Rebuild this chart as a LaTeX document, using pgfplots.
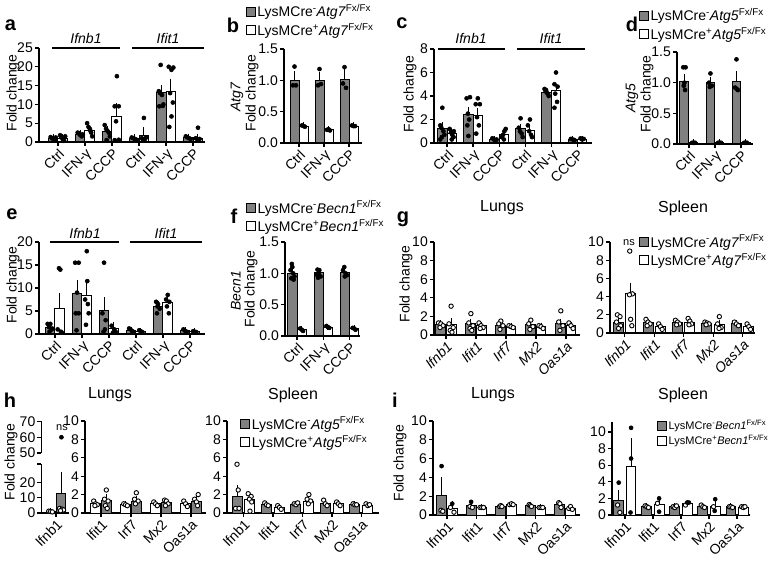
\documentclass[border=0pt]{standalone}
\usepackage{pgfplots}
\pgfplotsset{compat=1.18}
\usepackage{fontspec}
\setmainfont{Liberation Sans}
\newcommand{\fs}[1]{\fontsize{#1}{#1}\selectfont}
\definecolor{bargray}{RGB}{128,128,128}
\pgfplotsset{
  gp/.style={scale only axis, anchor=south west, axis lines=left,
    axis line style={-, line width=1.3pt}, tick style={black, line width=1.3pt},
    tick align=outside, major tick length=4pt, clip=false,
    tick label style={font=\fs{14}},
    xticklabel style={rotate=45, anchor=north east, inner sep=1pt},
    yticklabel style={inner sep=2pt},
    /pgf/number format/assume math mode=true,
    legend cell align=left,
    legend style={draw=none, fill=none, inner sep=0pt, font=\fs{14}, nodes={font=\fs{14}, inner sep=1.5pt}, row sep=1pt}},
  onedec/.style={yticklabel style={/pgf/number format/.cd, fixed, fixed zerofill, precision=1}},
  sq/.style={legend image code/.code={\draw[##1, draw=black, line width=1pt] (0pt,-4.5pt) rectangle (9pt,4.5pt);}},
  gbar/.style={ybar, bar width=#1, bar shift=0pt, fill=bargray, draw=black, line width=1pt, sq,
    error bars/y dir=plus, error bars/y explicit,
    error bars/error bar style={line width=1pt, black},
    error bars/error mark options={line width=1pt, mark size=3pt, black}},
  wbar/.style={gbar=#1, fill=white},
  dots/.style={only marks, mark=*, mark size=2pt, mark options={fill=black, draw=black, line width=0.6pt}, forget plot},
  odots/.style={only marks, mark=*, mark size=2.2pt, mark options={fill=white, draw=black, line width=0.9pt}, forget plot},
}
\begin{document}
\fs{14}%
\begin{tikzpicture}
\path[use as bounding box] (0,0) rectangle (772pt,-561pt);

% ---------------- a ----------------
\begin{axis}[gp, at={(39pt,-142pt)}, width=166pt, height=94pt,
  xmin=-0.7, xmax=5.44, ymin=0, ymax=25, ytick={0,5,10,15,20,25},
  xtick={0,1,2,3,4,5}, xticklabels={Ctrl,IFN-γ,CCCP,Ctrl,IFN-γ,CCCP}]
\addplot[gbar=0.35] coordinates {(-0.175,1.0) +- (0,0.2) (0.825,2.0) +- (0,0.3) (1.825,2.8) +- (0,0.6)
  (2.825,1.0) +- (0,0.2) (3.825,13.2) +- (0,1.1) (4.825,1.2) +- (0,0.25)};
\addplot[wbar=0.35] coordinates {(0.175,1.0) +- (0,0.3) (1.175,3.0) +- (0,0.5) (2.175,6.7) +- (0,2.9)
  (3.175,1.8) +- (0,1.3) (4.175,13.3) +- (0,2.7) (5.175,1.0) +- (0,0.4)};
\addplot[dots] coordinates {(-0.27,1.3)(-0.22,1.0)(-0.17,0.8)(-0.12,0.6)(-0.08,1.2)
  (0.08,1.8)(0.13,1.2)(0.18,0.7)(0.23,0.4)(0.27,1.5)(0.2,0.3)
  (0.73,2.5)(0.78,2.2)(0.83,1.8)(0.88,1.5)(0.92,2.0)(0.8,2.3)
  (1.08,5.0)(1.13,4.0)(1.18,3.5)(1.23,2.5)(1.27,1.5)(1.2,3.0)
  (1.73,4.5)(1.78,3.5)(1.83,3.0)(1.88,2.5)(1.92,1.5)(1.8,0.5)
  (2.18,17.5)(2.1,9.5)(2.25,9.5)(2.15,5.5)(2.1,0.5)(2.25,0.6)
  (2.73,1.2)(2.79,1.0)(2.85,0.8)(2.91,0.6)
  (3.18,6.4)(3.1,1.0)(3.15,0.5)(3.22,0.8)(3.26,1.2)
  (3.8,20.5)(3.73,13.5)(3.78,13.0)(3.85,12.5)(3.9,10.0)(3.75,9.5)(3.88,9.6)
  (4.1,20.0)(4.2,19.2)(4.27,19.8)(4.15,13.0)(4.25,10.5)(4.2,6.8)(4.12,4.0)
  (4.73,1.5)(4.79,1.2)(4.85,1.0)(4.91,0.8)
  (5.18,3.8)(5.1,1.0)(5.16,0.6)(5.24,0.8)};
\end{axis}

% ---------------- b ----------------
\begin{axis}[gp, onedec, at={(284pt,-143pt)}, width=78pt, height=94pt,
  xmin=-0.6, xmax=2.52, ymin=0, ymax=1.5, ytick={0,0.5,1,1.5},
  xtick={0,1,2}, xticklabels={Ctrl,IFN-γ,CCCP},
  legend style={at={(-0.49,1.49)}, anchor=north west}]
\addplot[gbar=0.36] coordinates {(-0.18,1.0) +- (0,0.1) (0.82,1.0) +- (0,0.08) (1.82,1.02) +- (0,0.12)};
\addlegendentry{LysMCre\textsuperscript{-}\textit{Atg7}\textsuperscript{Fx/Fx}}
\addplot[wbar=0.36] coordinates {(0.18,0.27) +- (0,0.01) (1.18,0.21) +- (0,0.01) (2.18,0.27) +- (0,0.01)};
\addlegendentry{LysMCre\textsuperscript{+}\textit{Atg7}\textsuperscript{Fx/Fx}}
\addplot[dots] coordinates {(-0.18,1.22)(-0.24,0.92)(-0.12,0.92)(0.82,1.18)(0.76,0.92)(0.88,0.94)
  (1.82,1.21)(1.76,0.95)(1.88,0.88)
  (0.12,0.28)(0.18,0.27)(0.24,0.26)(1.12,0.21)(1.18,0.22)(1.24,0.2)(2.12,0.28)(2.18,0.27)(2.24,0.27)};
\end{axis}

% ---------------- c ----------------
\begin{axis}[gp, at={(434pt,-143pt)}, width=158pt, height=94pt,
  xmin=-0.5, xmax=5.56, ymin=0, ymax=8, ytick={0,2,4,6,8},
  xtick={0,1,2,3,4,5}, xticklabels={Ctrl,IFN-γ,CCCP,Ctrl,IFN-γ,CCCP}]
\addplot[gbar=0.36] coordinates {(-0.18,1.2) +- (0,0.3) (0.82,2.4) +- (0,0.4) (1.82,0.3) +- (0,0.05)
  (2.82,1.2) +- (0,0.2) (3.82,4.3) +- (0,0.1) (4.82,0.3) +- (0,0.03)};
\addplot[wbar=0.36] coordinates {(0.18,0.8) +- (0,0.15) (1.18,2.3) +- (0,0.4) (2.18,0.75) +- (0,0.15)
  (3.18,1.1) +- (0,0.2) (4.18,4.5) +- (0,0.3) (5.18,0.3) +- (0,0.03)};
\addplot[dots] coordinates {(-0.18,3.0)(-0.26,1.5)(-0.22,1.3)(-0.14,1.0)(-0.1,0.7)(-0.2,0.5)(-0.26,0.3)
  (0.1,1.2)(0.15,0.9)(0.2,0.7)(0.25,0.5)(0.18,0.3)(0.26,1.0)
  (0.75,3.8)(0.88,3.9)(0.8,2.5)(0.85,2.0)(0.78,1.5)(0.82,0.6)
  (1.18,3.8)(1.1,3.3)(1.26,3.3)(1.15,2.2)(1.22,1.5)(1.12,0.8)
  (1.74,0.4)(1.8,0.3)(1.86,0.2)(1.9,0.3)
  (2.1,0.5)(2.15,0.7)(2.2,1.0)(2.25,1.2)(2.18,0.3)
  (2.82,2.1)(2.75,1.3)(2.8,1.0)(2.86,0.8)(2.9,0.5)
  (3.18,2.0)(3.1,1.5)(3.15,1.0)(3.22,0.7)(3.26,0.5)
  (3.74,4.6)(3.78,4.4)(3.82,4.3)(3.86,4.2)(3.9,4.0)(3.8,4.5)
  (4.18,6.0)(4.12,5.0)(4.24,4.8)(4.15,4.2)(4.22,3.5)(4.12,3.0)
  (4.75,0.35)(4.82,0.3)(4.89,0.25)
  (5.12,0.4)(5.18,0.3)(5.24,0.35)};
\end{axis}

% ---------------- d ----------------
\begin{axis}[gp, onedec, at={(677pt,-144pt)}, width=76pt, height=92pt,
  xmin=-0.46, xmax=2.46, ymin=0, ymax=1.5, ytick={0,0.5,1,1.5},
  xtick={0,1,2}, xticklabels={Ctrl,IFN-γ,CCCP},
  legend style={at={(-0.5,1.49)}, anchor=north west}]
\addplot[gbar=0.34] coordinates {(-0.175,1.02) +- (0,0.07) (0.825,1.0) +- (0,0.05) (1.825,1.02) +- (0,0.12)};
\addlegendentry{LysMCre\textsuperscript{-}\textit{Atg5}\textsuperscript{Fx/Fx}}
\addplot[wbar=0.34] coordinates {(0.175,0.02) +- (0,0.005) (1.175,0.02) +- (0,0.005) (2.175,0.02) +- (0,0.005)};
\addlegendentry{LysMCre\textsuperscript{+}\textit{Atg5}\textsuperscript{Fx/Fx}}
\addplot[dots] coordinates {(-0.22,1.25)(-0.13,1.25)(-0.2,0.95)(-0.15,0.88)(-0.175,1.0)
  (0.825,1.15)(0.77,1.0)(0.88,0.95)(0.8,0.93)
  (1.825,1.38)(1.77,0.92)(1.83,0.9)(1.88,0.88)
  (0.12,0.02)(0.175,0.02)(0.23,0.02)(1.12,0.02)(1.175,0.02)(1.23,0.02)(2.12,0.02)(2.175,0.02)(2.23,0.02)};
\end{axis}

% ---------------- e ----------------
\begin{axis}[gp, at={(39pt,-334pt)}, width=166pt, height=92pt,
  xmin=-0.59, xmax=5.56, ymin=0, ymax=20, ytick={0,5,10,15,20},
  xtick={0,1,2,3,4,5}, xticklabels={Ctrl,IFN-γ,CCCP,Ctrl,IFN-γ,CCCP}]
\addplot[gbar=0.35] coordinates {(-0.175,1.5) +- (0,0.5) (0.825,8.7) +- (0,2.3) (1.825,5.0) +- (0,2.3)
  (2.825,0.8) +- (0,0.15) (3.825,6.0) +- (0,0.6) (4.825,0.7) +- (0,0.1)};
\addplot[wbar=0.35] coordinates {(0.175,5.5) +- (0,2.8) (1.175,8.3) +- (0,2.3) (2.175,1.2) +- (0,0.8)
  (3.175,0.6) +- (0,0.1) (4.175,6.8) +- (0,0.5) (5.175,0.5) +- (0,0.05)};
\addplot[dots] coordinates {(-0.27,2.2)(-0.17,2.2)(-0.22,1.5)(-0.12,1.0)(-0.2,0.5)(-0.1,1.2)
  (0.15,14.3)(0.2,14.0)(0.1,1.0)(0.22,0.5)(0.26,0.3)
  (0.75,15.5)(0.88,15.5)(0.82,9.0)(0.77,4.5)(0.88,4.5)(0.8,0.8)
  (1.18,18.0)(1.2,11.5)(1.12,7.5)(1.25,4.5)(1.15,2.0)(1.22,6.5)
  (1.82,15.5)(1.76,4.5)(1.88,3.0)(1.8,0.5)(1.85,1.0)
  (2.1,1.8)(2.2,1.0)(2.25,0.5)(2.15,0.3)
  (2.75,1.2)(2.8,1.0)(2.86,0.6)(2.9,0.5)
  (3.12,0.8)(3.18,0.6)(3.24,0.4)
  (3.75,7.0)(3.82,6.5)(3.88,5.5)(3.8,6.0)(3.78,4.5)
  (4.18,8.5)(4.12,7.5)(4.24,7.0)(4.15,6.0)(4.22,4.5)
  (4.76,1.0)(4.82,0.7)(4.88,0.5)
  (5.12,0.6)(5.18,0.5)(5.24,0.4)};
\end{axis}

% ---------------- f ----------------
\begin{axis}[gp, onedec, at={(285pt,-336pt)}, width=75pt, height=94pt,
  xmin=-0.46, xmax=2.4, ymin=0, ymax=1.5, ytick={0,0.5,1,1.5},
  xtick={0,1,2}, xticklabels={Ctrl,IFN-γ,CCCP},
  legend style={at={(-0.52,1.457)}, anchor=north west}]
\addplot[gbar=0.35] coordinates {(-0.175,1.0) +- (0,0.03) (0.825,1.02) +- (0,0.02) (1.825,1.02) +- (0,0.03)};
\addlegendentry{LysMCre\textsuperscript{-}\textit{Becn1}\textsuperscript{Fx/Fx}}
\addplot[wbar=0.35] coordinates {(0.175,0.1) +- (0,0.01) (1.175,0.14) +- (0,0.01) (2.175,0.12) +- (0,0.01)};
\addlegendentry{LysMCre\textsuperscript{+}\textit{Becn1}\textsuperscript{Fx/Fx}}
\addplot[dots] coordinates {(-0.2,1.15)(-0.25,1.05)(-0.15,1.0)(-0.1,0.95)(-0.22,0.92)(-0.13,0.9)(-0.18,1.1)
  (0.78,1.06)(0.85,1.05)(0.82,1.0)(0.75,0.98)(0.9,0.95)(0.8,0.93)
  (1.8,1.1)(1.75,1.05)(1.85,1.0)(1.9,0.97)(1.82,0.95)
  (0.12,0.12)(0.18,0.1)(0.23,0.08)(1.12,0.16)(1.18,0.14)(1.23,0.13)(2.12,0.13)(2.18,0.12)(2.23,0.1)};
\end{axis}

% ---------------- g lungs ----------------
\begin{axis}[gp, at={(434pt,-335pt)}, width=146pt, height=93pt,
  xmin=-0.4, xmax=4.47, ymin=0, ymax=10, ytick={0,2,4,6,8,10},
  xtick={0,1,2,3,4}, xticklabels={\textit{Ifnb1},\textit{Ifit1},\textit{Irf7},\textit{Mx2},\textit{Oas1a}}]
\addplot[gbar=0.33] coordinates {(-0.17,1.1) +- (0,0.15) (0.83,1.2) +- (0,0.2) (1.83,1.0) +- (0,0.1)
  (2.83,1.1) +- (0,0.15) (3.83,1.2) +- (0,0.25)};
\addplot[wbar=0.33] coordinates {(0.17,1.1) +- (0,0.4) (1.17,1.0) +- (0,0.1) (2.17,0.9) +- (0,0.08)
  (3.17,0.9) +- (0,0.1) (4.17,1.0) +- (0,0.1)};
\addplot[odots] coordinates {(-0.25,1.3)(-0.17,1.2)(-0.1,1.0)(-0.2,0.8)
  (0.17,3.1)(0.1,1.2)(0.24,0.8)(0.14,0.5)(0.2,0.3)
  (0.83,2.3)(0.76,1.3)(0.9,1.0)(0.8,0.7)(0.86,0.5)
  (1.1,1.3)(1.17,1.0)(1.24,0.8)(1.14,0.7)
  (1.83,1.5)(1.76,1.2)(1.9,1.0)(1.8,0.6)
  (2.1,1.0)(2.17,0.9)(2.24,0.8)
  (2.83,1.6)(2.76,1.2)(2.9,0.9)(2.8,0.6)
  (3.1,1.0)(3.17,0.9)(3.24,0.7)
  (3.83,2.6)(3.76,1.4)(3.9,1.0)(3.8,0.5)
  (4.1,1.3)(4.17,1.0)(4.24,0.7)};
\end{axis}

% ---------------- g spleen ----------------
\begin{axis}[gp, at={(610pt,-333pt)}, width=145pt, height=91pt,
  xmin=-0.5, xmax=4.42, ymin=0, ymax=10, ytick={0,2,4,6,8,10},
  xtick={0,1,2,3,4}, xticklabels={\textit{Ifnb1},\textit{Ifit1},\textit{Irf7},\textit{Mx2},\textit{Oas1a}},
  legend style={at={(0.2,1.099)}, anchor=north west}]
\addplot[gbar=0.34] coordinates {(-0.21,1.2) +- (0,0.4) (0.79,1.1) +- (0,0.15) (1.79,1.1) +- (0,0.1)
  (2.79,1.0) +- (0,0.05) (3.79,1.0) +- (0,0.08)};
\addlegendentry{LysMCre\textsuperscript{-}\textit{Atg7}\textsuperscript{Fx/Fx}}
\addplot[wbar=0.34] coordinates {(0.21,4.3) +- (0,0.9) (1.21,0.7) +- (0,0.1) (2.21,1.2) +- (0,0.15)
  (3.21,0.9) +- (0,0.2) (4.21,0.7) +- (0,0.15)};
\addlegendentry{LysMCre\textsuperscript{+}\textit{Atg7}\textsuperscript{Fx/Fx}}
\addplot[odots] coordinates {(-0.25,2.0)(-0.16,1.8)(-0.28,1.2)(-0.14,0.8)(-0.21,0.5)
  (0.17,9.0)(0.26,4.3)(0.16,4.2)(0.2,1.5)(0.24,0.8)
  (0.72,1.5)(0.79,1.2)(0.86,1.0)(0.76,0.8)
  (1.15,1.0)(1.21,0.7)(1.27,0.4)
  (1.72,1.4)(1.79,1.2)(1.86,1.0)(1.76,0.9)
  (2.15,1.6)(2.21,1.3)(2.27,1.0)(2.18,0.9)
  (2.72,1.2)(2.79,1.1)(2.86,1.0)(2.76,0.9)
  (3.21,1.8)(3.15,1.0)(3.27,0.6)(3.2,0.5)
  (3.72,1.2)(3.79,1.0)(3.86,0.8)
  (4.15,1.0)(4.21,0.7)(4.27,0.4)};
\end{axis}

% ---------------- h lungs, Ifnb1 (broken axis) ----------------
\begin{axis}[gp, at={(41.5pt,-513pt)}, width=27.5pt, height=49pt,
  xmin=-0.48, xmax=0.43, ymin=0, ymax=32, ytick={0,10,20},
  extra y ticks={32}, extra y tick labels={},
  xtick={0}, xticklabels={Ifnb1}]
\addplot[wbar=0.3] coordinates {(-0.18,1.0) +- (0,0.1)};
\addplot[gbar=0.3] coordinates {(0.18,13.0) +- (0,12.0)};
\addplot[odots] coordinates {(-0.24,1.2)(-0.18,1.0)(-0.12,0.7)
  (0.12,3.0)(0.2,2.5)(0.25,2.0)(0.15,1.5)};
\end{axis}
\begin{axis}[gp, at={(41.5pt,-453pt)}, width=27.5pt, height=31.5pt,
  axis x line=none, xmin=-0.48, xmax=0.43, ymin=50, ymax=70, ytick={50,60,70}]
\addplot[dots] coordinates {(0.18,60)};
\end{axis}

% ---------------- h lungs, other genes ----------------
\begin{axis}[gp, at={(85pt,-513pt)}, width=121pt, height=92pt,
  xmin=-0.53, xmax=3.5, ymin=0, ymax=10, ytick={0,2,4,6,8,10},
  xtick={0,1,2,3}, xticklabels={Ifit1,Irf7,Mx2,Oas1a}]
\addplot[wbar=0.33] coordinates {(-0.18,1.0) +- (0,0.1) (0.82,0.9) +- (0,0.05) (1.82,1.0) +- (0,0.1) (2.82,1.0) +- (0,0.1)};
\addplot[gbar=0.33] coordinates {(0.18,1.4) +- (0,0.3) (1.18,1.3) +- (0,0.2) (2.18,1.1) +- (0,0.1) (3.18,1.3) +- (0,0.2)};
\addplot[odots] coordinates {(-0.24,1.3)(-0.18,1.0)(-0.12,0.9)(-0.2,0.8)
  (0.18,2.5)(0.12,1.5)(0.24,1.3)(0.15,0.8)(0.21,0.5)
  (0.76,1.0)(0.82,0.9)(0.88,0.8)
  (1.18,2.2)(1.12,1.5)(1.24,1.3)(1.15,1.0)
  (1.76,1.2)(1.82,1.0)(1.88,0.8)
  (2.12,1.4)(2.18,1.3)(2.24,1.0)(2.15,0.8)
  (2.76,1.3)(2.82,1.0)(2.88,0.7)
  (3.24,2.0)(3.12,1.5)(3.18,1.2)(3.22,0.8)};
\end{axis}

% ---------------- h spleen ----------------
\begin{axis}[gp, at={(227pt,-513pt)}, width=152pt, height=92pt,
  xmin=-0.56, xmax=4.6, ymin=0, ymax=10, ytick={0,2,4,6,8,10},
  xtick={0,1,2,3,4}, xticklabels={Ifnb1,Ifit1,Irf7,Mx2,Oas1a},
  legend style={at={(0.086,1.065)}, anchor=north west}]
\addplot[gbar=0.34] coordinates {(-0.22,1.75) +- (0,1.0) (0.78,0.9) +- (0,0.1) (1.78,0.9) +- (0,0.1)
  (2.78,1.0) +- (0,0.1) (3.78,0.9) +- (0,0.05)};
\addlegendentry{LysMCre\textsuperscript{-}\textit{Atg5}\textsuperscript{Fx/Fx}}
\addplot[wbar=0.34] coordinates {(0.22,1.5) +- (0,0.3) (1.22,0.6) +- (0,0.1) (2.22,1.3) +- (0,0.2)
  (3.22,1.0) +- (0,0.1) (4.22,0.8) +- (0,0.1)};
\addlegendentry{LysMCre\textsuperscript{+}\textit{Atg5}\textsuperscript{Fx/Fx}}
\addplot[odots] coordinates {(-0.22,5.3)(-0.18,2.5)(-0.27,0.5)(-0.15,0.5)
  (0.16,2.1)(0.26,1.8)(0.2,1.5)(0.28,1.2)(0.22,0.2)
  (0.72,1.1)(0.78,0.9)(0.84,0.8)
  (1.16,0.8)(1.22,0.6)(1.28,0.4)
  (1.72,1.0)(1.78,0.9)(1.84,1.1)
  (2.22,2.0)(2.16,1.5)(2.28,1.3)(2.2,1.0)
  (2.72,1.4)(2.78,1.0)(2.84,0.8)
  (3.16,1.2)(3.22,1.0)(3.28,0.8)
  (3.72,1.0)(3.78,0.9)(3.84,0.9)
  (4.16,1.0)(4.22,0.8)(4.28,0.9)};
\end{axis}

% ---------------- i lungs ----------------
\begin{axis}[gp, at={(433pt,-515pt)}, width=147pt, height=94pt,
  xmin=-0.47, xmax=4.5, ymin=0, ymax=10, ytick={0,2,4,6,8,10},
  xtick={0,1,2,3,4}, xticklabels={Ifnb1,Ifit1,Irf7,Mx2,Oas1a}]
\addplot[gbar=0.34] coordinates {(-0.18,2.1) +- (0,1.6) (0.82,1.0) +- (0,0.2) (1.82,0.9) +- (0,0.05)
  (2.82,1.0) +- (0,0.1) (3.82,1.1) +- (0,0.2)};
\addplot[wbar=0.34] coordinates {(0.18,0.7) +- (0,0.5) (1.18,0.8) +- (0,0.05) (2.18,1.1) +- (0,0.05)
  (3.18,0.8) +- (0,0.05) (4.18,0.7) +- (0,0.1)};
\addplot[odots] coordinates {(-0.2,0.5)(-0.14,0.4)(0.12,0.8)(0.24,0.3)
  (0.78,0.9)(0.86,0.8)(1.12,0.8)(1.18,0.8)(1.24,0.8)
  (1.78,0.9)(1.82,1.0)(1.86,0.9)(2.12,1.1)(2.18,1.2)(2.24,1.1)
  (2.78,1.1)(2.82,1.0)(2.86,0.9)(3.12,0.8)(3.18,0.8)(3.24,0.8)
  (3.78,1.3)(3.82,1.2)(3.86,0.8)(4.12,0.7)(4.18,0.9)(4.24,0.6)};
\addplot[dots] coordinates {(-0.18,5.2)(0.18,1.2)(0.82,1.4)};
\end{axis}

% ---------------- i spleen ----------------
\begin{axis}[gp, at={(612pt,-515pt)}, width=138pt, height=93pt,
  xmin=-0.46, xmax=4.46, ymin=0, ymax=11.2, ytick={0,2,4,6,8,10},
  xtick={0,1,2,3,4}, xticklabels={Ifnb1,Ifit1,Irf7,Mx2,Oas1a},
  legend style={at={(0.326,1.043)}, anchor=north west, font=\fs{11}, nodes={font=\fs{11}}}]
\addplot[gbar=0.35] coordinates {(-0.22,1.7) +- (0,1.0) (0.78,1.0) +- (0,0.1) (1.78,1.0) +- (0,0.1)
  (2.78,1.0) +- (0,0.1) (3.78,1.0) +- (0,0.05)};
\addlegendentry{LysMCre\textsuperscript{-}\textit{Becn1}\textsuperscript{Fx/Fx}}
\addplot[wbar=0.35] coordinates {(0.22,5.9) +- (0,3.0) (1.22,1.3) +- (0,0.4) (2.22,1.4) +- (0,0.1)
  (3.22,1.0) +- (0,0.4) (4.22,0.9) +- (0,0.1)};
\addlegendentry{LysMCre\textsuperscript{+}\textit{Becn1}\textsuperscript{Fx/Fx}}
\addplot[odots] coordinates {(-0.26,1.2)(-0.18,0.3)
  (0.72,1.1)(0.78,1.0)(0.84,0.9)(1.16,1.4)
  (1.72,1.0)(1.78,0.9)(1.84,1.1)(2.16,1.2)
  (2.72,1.2)(2.78,1.0)(2.84,0.9)(3.16,1.0)
  (3.72,1.0)(3.78,1.0)(3.84,0.9)(4.16,1.0)(4.22,0.9)(4.28,1.0)};
\addplot[dots] coordinates {(-0.22,3.9)(0.22,10.5)(0.22,6.8)(0.2,0.3)(1.22,2.0)(1.22,0.4)
  (2.22,1.5)(2.28,1.5)(3.22,1.9)(3.2,0.5)};
\end{axis}

% ---------------- labels and annotations ----------------
\begin{scope}[every node/.style={font=\fs{14}}]
\draw[line width=1.3pt] (52pt,-48pt) -- (120pt,-48pt) (132pt,-48pt) -- (204pt,-48pt);
\node at (86pt,-38pt) {\itshape Ifnb1};
\node at (168pt,-38pt) {\itshape Ifit1};
\draw[line width=1.3pt] (438pt,-49pt) -- (505pt,-49pt) (517pt,-49pt) -- (585pt,-49pt);
\node at (471pt,-38pt) {\itshape Ifnb1};
\node at (551pt,-38pt) {\itshape Ifit1};
\draw[line width=1.3pt] (50pt,-242pt) -- (119pt,-242pt) (130pt,-242pt) -- (202pt,-242pt);
\node at (85pt,-233pt) {\itshape Ifnb1};
\node at (166pt,-233pt) {\itshape Ifit1};
% y axis titles
\node[rotate=90] at (13pt,-93pt) {Fold change};
\node[rotate=90] at (237pt,-97pt) {\itshape Atg7};
\node[rotate=90] at (252pt,-93pt) {Fold change};
\node[rotate=90] at (410pt,-94pt) {Fold change};
\node[rotate=90] at (632pt,-98pt) {\itshape Atg5};
\node[rotate=90] at (647pt,-94pt) {Fold change};
\node[rotate=90] at (13pt,-285pt) {Fold change};
\node[rotate=90] at (236pt,-291pt) {\itshape Becn1};
\node[rotate=90] at (251pt,-289pt) {Fold change};
\node[rotate=90] at (406pt,-284pt) {Fold change};
\node[rotate=90] at (11pt,-462pt) {Fold change};
\node[rotate=90] at (400pt,-463pt) {Fold change};
\node[font=\fs{11}] at (629pt,-243pt) {ns};
\node[font=\fs{11}] at (62pt,-428pt) {ns};
\end{scope}
\begin{scope}[every node/.style={font=\fs{16}}]
\node at (502pt,-208pt) {Lungs};
\node at (683pt,-208pt) {Spleen};
\node at (110pt,-395pt) {Lungs};
\node at (293pt,-395pt) {Spleen};
\node at (493pt,-395pt) {Lungs};
\node at (683pt,-395pt) {Spleen};
\end{scope}
\begin{scope}[every node/.style={font=\bfseries\fs{20}}]
\node at (10.5pt,-25pt) {a};
\node at (233pt,-25pt) {b};
\node at (402pt,-23pt) {c};
\node at (632pt,-24pt) {d};
\node at (12pt,-214pt) {e};
\node at (234pt,-216pt) {f};
\node at (403pt,-219pt) {g};
\node at (10pt,-400pt) {h};
\node at (395pt,-400pt) {i};
\end{scope}
\end{tikzpicture}
\end{document}
